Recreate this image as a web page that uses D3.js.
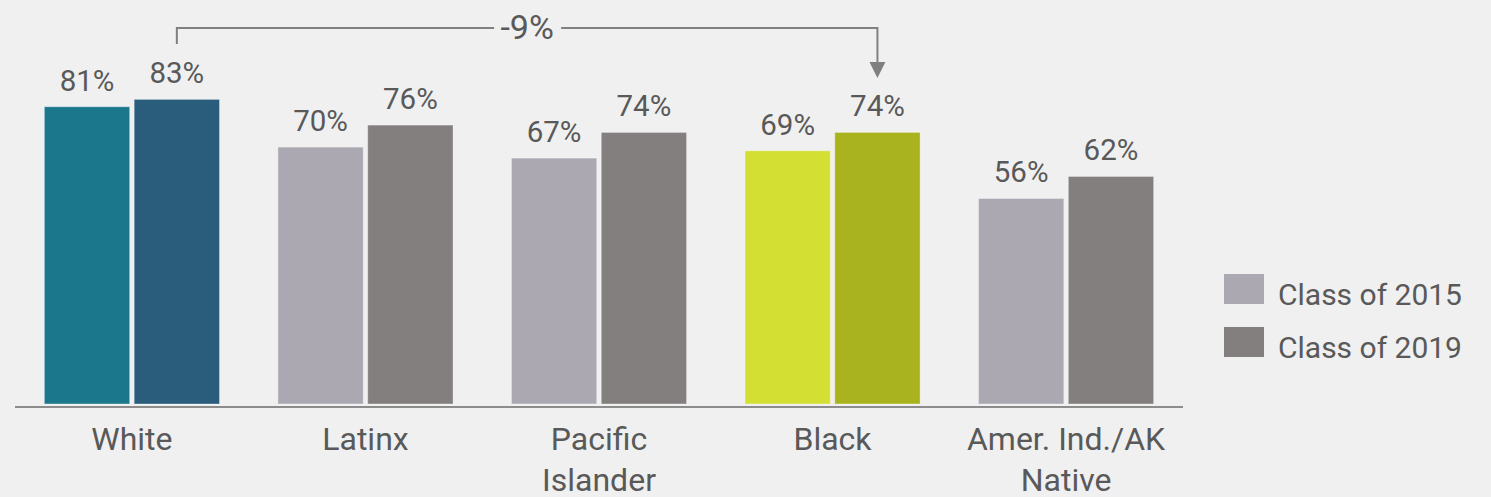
<!DOCTYPE html>
<html>
<head>
<meta charset="utf-8">
<script src="https://cdn.jsdelivr.net/npm/d3@7"></script>
<style>
    body { margin: 0; background: #f0f0f0; }
    svg { display: block; font-family: Roboto, "Open Sans", sans-serif; }
    .value-label { fill: #595959; font-size: 29.5px; text-anchor: middle; }
    .gap-label { fill: #595959; font-size: 34px; text-anchor: middle; }
    .cat-label { fill: #595959; font-size: 32px; text-anchor: middle; }
    .legend-text { fill: #595959; font-size: 30px; }
</style>
</head>
<body>
<div id="chart"></div>
<script>
// Chart data
const categories = ["White", "Latinx", "Pacific Islander", "Black", "Amer. Ind./AK Native"];
const categoryLines = [["White"], ["Latinx"], ["Pacific", "Islander"], ["Black"], ["Amer. Ind./AK", "Native"]];
const seriesNames = ["Class of 2015", "Class of 2019"];
const class2015 = [81, 70, 67, 69, 56];
const class2019 = [83, 76, 74, 74, 62];

// Colours: highlighted groups get their own pair, the rest are grey
const greyPair = ["#aba8b2", "#837f7e"];
const highlightColors = {
    "White": ["#1b788c", "#2a5d7c"],
    "Black": ["#d4df33", "#a9b21f"]
};

const width = 1491;
const height = 497;
const baseline = 404;

const svg = d3.select("#chart")
    .append("svg")
    .attr("width", width)
    .attr("height", height);

svg.append("rect")
    .attr("width", width)
    .attr("height", height)
    .attr("fill", "#f0f0f0");

// Scales
const x0 = d3.scaleBand()
    .domain(categories)
    .range([14, 1184])
    .paddingInner(0.25)
    .paddingOuter(0.13);

const x1 = d3.scaleBand()
    .domain(seriesNames)
    .range([0, x0.bandwidth()])
    .paddingInner(0.05);

const y = d3.scaleLinear()
    .domain([0, 100])
    .range([baseline, 37]);

const rows = categories.map((c, i) => ({
    category: c,
    values: [
        { series: seriesNames[0], value: class2015[i], idx: 0 },
        { series: seriesNames[1], value: class2019[i], idx: 1 }
    ]
}));

const groups = svg.selectAll("g.group")
    .data(rows)
    .enter()
    .append("g")
    .attr("class", "group")
    .attr("transform", d => `translate(${x0(d.category)}, 0)`);

groups.selectAll("rect")
    .data(d => d.values.map(v => ({ ...v, category: d.category })))
    .enter()
    .append("rect")
    .attr("x", d => x1(d.series))
    .attr("y", d => y(d.value))
    .attr("width", x1.bandwidth())
    .attr("height", d => y(0) - y(d.value))
    .attr("fill", d => (highlightColors[d.category] || greyPair)[d.idx])
    .attr("stroke", "rgba(255,255,255,0.35)")
    .attr("stroke-width", 1);

// Value labels above bars
groups.selectAll("text.value-label")
    .data(d => d.values)
    .enter()
    .append("text")
    .attr("class", "value-label")
    .attr("x", d => x1(d.series) + x1.bandwidth() / 2)
    .attr("y", d => y(d.value) - 16)
    .text(d => d.value + "%");

// Baseline axis
svg.append("line")
    .attr("x1", 15)
    .attr("x2", 1183)
    .attr("y1", baseline + 3)
    .attr("y2", baseline + 3)
    .attr("stroke", "#8c8c8c")
    .attr("stroke-width", 2);

// Category labels
categories.forEach((c, i) => {
    const t = svg.append("text")
        .attr("class", "cat-label")
        .attr("x", x0(c) + x0.bandwidth() / 2)
        .attr("y", 450);
    categoryLines[i].forEach((line, j) => {
        t.append("tspan")
            .attr("x", x0(c) + x0.bandwidth() / 2)
            .attr("dy", j === 0 ? 0 : 41)
            .text(line);
    });
});

// Gap annotation between White and Black class of 2019
const fromX = x0("White") + x1(seriesNames[1]) + x1.bandwidth() / 2;
const toX = x0("Black") + x1(seriesNames[1]) + x1.bandwidth() / 2;
const gap = class2019[categories.indexOf("Black")] - class2019[categories.indexOf("White")];
const midX = (fromX + toX) / 2;
const lineY = 28;

const annot = svg.append("g");
annot.append("path")
    .attr("d", `M${fromX},44 V${lineY} H${midX - 33}`)
    .attr("fill", "none")
    .attr("stroke", "#808080")
    .attr("stroke-width", 2);
annot.append("path")
    .attr("d", `M${midX + 34},${lineY} H${toX} V64`)
    .attr("fill", "none")
    .attr("stroke", "#808080")
    .attr("stroke-width", 2);
annot.append("path")
    .attr("d", `M${toX - 8},62 L${toX + 8},62 L${toX},78 Z`)
    .attr("fill", "#808080");
annot.append("text")
    .attr("class", "gap-label")
    .attr("x", midX)
    .attr("y", 39)
    .text(gap + "%");

// Legend
const legend = svg.append("g")
    .attr("transform", "translate(1224, 274)");

const legendItems = legend.selectAll("g")
    .data(seriesNames)
    .enter()
    .append("g")
    .attr("transform", (d, i) => `translate(0, ${i * 53})`);

legendItems.append("rect")
    .attr("width", 40)
    .attr("height", 30)
    .attr("fill", (d, i) => greyPair[i]);

legendItems.append("text")
    .attr("class", "legend-text")
    .attr("x", 54)
    .attr("y", 31)
    .text(d => d);
</script>
</body>
</html>
